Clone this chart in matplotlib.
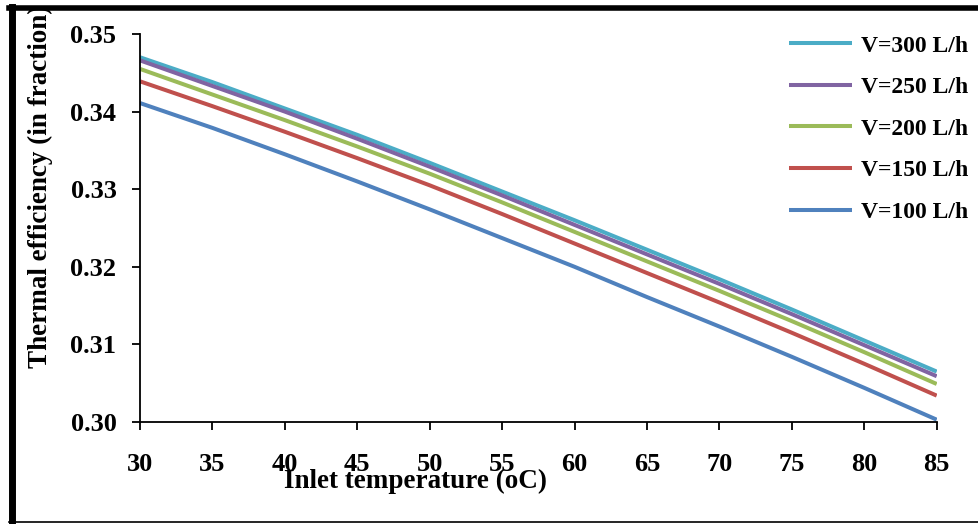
import numpy as np
import matplotlib
matplotlib.use('Agg')
import matplotlib.pyplot as plt
from matplotlib.lines import Line2D

# data
temps = [30, 35, 40, 45, 50, 55, 60, 65, 70, 75, 80, 85]
eff_300 = [0.3470, 0.3438, 0.3404, 0.3370, 0.3334, 0.3297, 0.3260, 0.3222, 0.3184, 0.3145, 0.3105, 0.3065]
eff_250 = [0.3466, 0.3433, 0.3400, 0.3365, 0.3329, 0.3292, 0.3254, 0.3216, 0.3178, 0.3139, 0.3099, 0.3059]
eff_200 = [0.3455, 0.3422, 0.3389, 0.3355, 0.3320, 0.3283, 0.3245, 0.3207, 0.3169, 0.3130, 0.3090, 0.3049]
eff_150 = [0.3439, 0.3407, 0.3374, 0.3340, 0.3305, 0.3268, 0.3230, 0.3192, 0.3154, 0.3115, 0.3075, 0.3034]
eff_100 = [0.3411, 0.3379, 0.3345, 0.3310, 0.3274, 0.3237, 0.3200, 0.3161, 0.3123, 0.3084, 0.3044, 0.3003]
labels = ['V=300 L/h', 'V=250 L/h', 'V=200 L/h', 'V=150 L/h', 'V=100 L/h']
colors = ['#4BACC6', '#8064A2', '#9BBB59', '#C0504D', '#4F81BD']

plt.rcParams['font.family'] = 'Liberation Serif'
plt.rcParams['font.weight'] = 'bold'

W, H = 979, 524
fig = plt.figure(figsize=(W/100, H/100), dpi=100)
ax = fig.add_axes([140/W, 1-422/H, (936.7-140)/W, (422-34)/H])

series = [eff_300, eff_250, eff_200, eff_150, eff_100]
for vals, lab, col in zip(series, labels, colors):
	ax.plot(temps, vals, color=col, lw=2.9, label=lab, solid_capstyle='butt')

ax.set_xlim(30, 85)
ax.set_ylim(0.30, 0.35)
ax.set_xticks(range(30, 90, 5))
ax.set_yticks([0.30, 0.31, 0.32, 0.33, 0.34, 0.35])
ax.set_yticklabels(['0.30', '0.31', '0.32', '0.33', '0.34', '0.35'])
ax.spines['top'].set_visible(False)
ax.spines['right'].set_visible(False)
for s in ['left', 'bottom']:
	ax.spines[s].set_linewidth(1.3)
ax.tick_params(axis='both', direction='out', length=6, width=1.3, labelsize=19)
ax.tick_params(axis='y', pad=11)
ax.tick_params(axis='x', pad=16)
for t in ax.get_xticklabels() + ax.get_yticklabels():
	t.set_fontweight('bold')

leg = ax.legend(loc='upper right', bbox_to_anchor=(968/W, 1-35/H), bbox_transform=fig.transFigure,
	frameon=False, borderpad=0, borderaxespad=0,
	prop={'weight': 'bold', 'size': 17}, handlelength=2.7, labelspacing=0.85, handletextpad=0.35)

# axis titles, placed like the original
fig.text(40/W, 1-186/H, 'Thermal efficiency (in fraction)', rotation=90, ha='center', va='center',
	fontsize=19.5, fontweight='bold')
fig.text(416/W, 1-481/H, 'Inlet temperature (oC)', ha='center', va='center', fontsize=19.5, fontweight='bold')

# outer frame: thick top/left, thin bottom
fig.add_artist(Line2D([11.5/W, 11.5/W], [1-7/H, 1-522/H], transform=fig.transFigure, color='black', lw=5))
fig.add_artist(Line2D([9/W, 1.0], [1-7.5/H, 1-7.5/H], transform=fig.transFigure, color='black', lw=4))
fig.add_artist(Line2D([9/W, 1.0], [1-522/H, 1-522/H], transform=fig.transFigure, color='black', lw=1.2))

fig.savefig('out.png', dpi=100)
